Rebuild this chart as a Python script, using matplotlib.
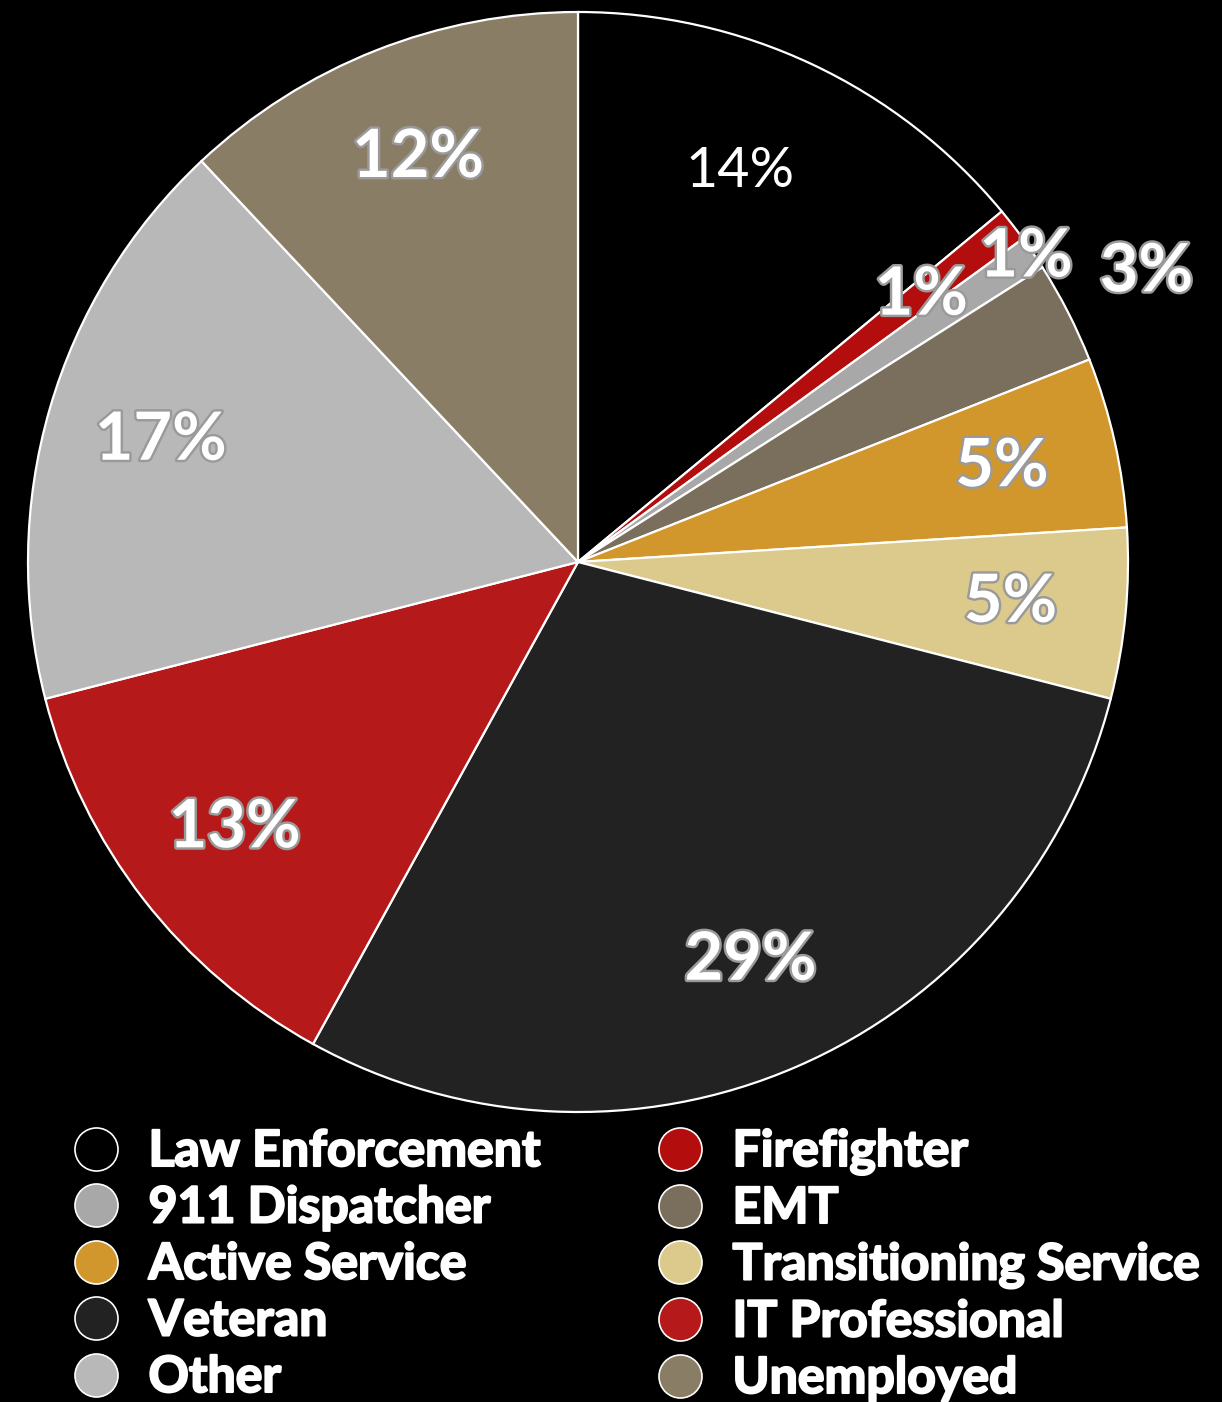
import matplotlib.pyplot as plt
import matplotlib.patheffects as pe
from matplotlib.lines import Line2D
import numpy as np

categories = ["Law Enforcement", "Firefighter", "911 Dispatcher", "EMT",
              "Active Service", "Transitioning Service", "Veteran",
              "IT Professional", "Other", "Unemployed"]
shares = [14, 1, 1, 3, 5, 5, 29, 13, 17, 12]
colors = ["#000000", "#b30d0d", "#a8a8a8", "#7a6f5c", "#d2972c",
          "#dcc98c", "#222222", "#b51919", "#b8b8b8", "#8a7d66"]

# radial position of each percentage label (fraction of radius)
label_r = [0.785, 0.79, 0.985, 1.16, 0.79, 0.79, 0.79, 0.79, 0.79, 0.79]

W, H = 1222, 1402
fig = plt.figure(figsize=(W / 100, H / 100), dpi=100, facecolor="black")

cx, cy, R = 578, 562, 550
ax = fig.add_axes([(cx - R) / W, 1 - (cy + R) / H, 2 * R / W, 2 * R / H])
ax.set_facecolor("black")

wedges, _ = ax.pie(shares, colors=colors, startangle=90, counterclock=False,
                   wedgeprops=dict(edgecolor="white", linewidth=1.6))
ax.set_xlim(-1, 1)
ax.set_ylim(-1, 1)
ax.axis("off")

shadow = [pe.withStroke(linewidth=3.5, foreground="#9a9a9a")]
for i, (w, v) in enumerate(zip(wedges, shares)):
    ang = np.deg2rad((w.theta1 + w.theta2) / 2)
    x, y = label_r[i] * np.cos(ang), label_r[i] * np.sin(ang)
    if i == 0:
        ax.text(x - 0.04, y, f"{v}%", color="white", fontsize=40,
                family="Lato", ha="center", va="center")
    else:
        ax.text(x, y, f"{v}%", color="white", fontsize=48, fontweight="bold",
                family=["Lato", "DejaVu Sans"], ha="center", va="center",
                path_effects=shadow, clip_on=False)

order = list(range(0, 10, 2)) + list(range(1, 10, 2))
handles = [Line2D([], [], linestyle="none", marker="o", markersize=31,
                  markerfacecolor=colors[i], markeredgecolor="white",
                  markeredgewidth=1.2) for i in order]
leg = fig.legend(handles, [categories[i] for i in order], ncol=2,
                 loc="upper left", bbox_to_anchor=(71 / W, 1 - 1129 / H),
                 frameon=False, labelcolor="white",
                 prop=dict(family=["Lato", "DejaVu Sans"], weight="bold", size=36),
                 handletextpad=0.55, labelspacing=0.23, columnspacing=2.3,
                 handlelength=1.0, borderaxespad=0, borderpad=0)
for t in leg.get_texts():
    t.set_path_effects([pe.withStroke(linewidth=1.5, foreground="white")])

fig.savefig("out.png", dpi=100, facecolor="black")
